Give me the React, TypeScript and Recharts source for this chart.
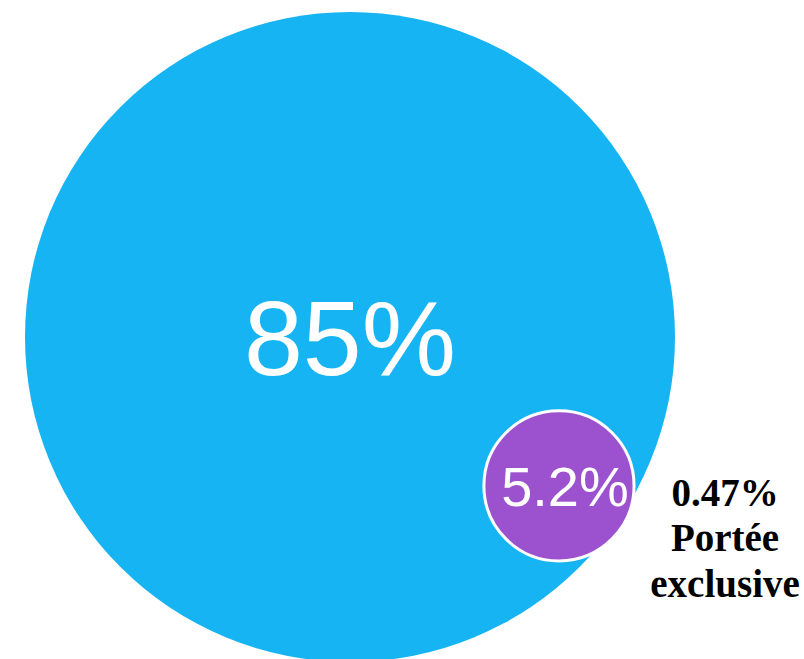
import { ScatterChart, Scatter, XAxis, YAxis } from "recharts";

// units: big circle radius = 100
const names = ["Portée totale", "Portée partagée"];
const labels = ["85%", "5.2%"];
const centerX = [0, 64.3];
const centerY = [0, -45.8];
const radius = [100, 23.1];
const colors = ["#17B4F3", "#9C52CF"];

const noteLines = ["0.47%", "Portée", "exclusive"];
const notePos = { x: 115.4, y: -52 };

const W = 804;
const H = 659;
const xDomain: [number, number] = [-107.69, 139.69];
const yDomain: [number, number] = [-99.08, 103.69];
const pxPerUnit = W / (xDomain[1] - xDomain[0]);

const circles = names.map((name, i) => ({
  name,
  x: centerX[i],
  y: centerY[i],
  r: radius[i],
  label: labels[i],
  color: colors[i],
}));

const CircleShape = (props: any) => {
  const { cx, cy, payload } = props;
  const r = payload.r * pxPerUnit;
  const big = payload.r > 50;
  const fontSize = big ? 106 : 56;
  return (
    <g>
      <circle
        cx={cx}
        cy={cy}
        r={r}
        fill={payload.color}
        stroke={big ? "none" : "#fff"}
        strokeWidth={3}
      />
      <text
        x={big ? cx : cx + 6}
        y={cy + fontSize * 0.36}
        textAnchor="middle"
        fill="#fff"
        fontFamily="'Liberation Sans', Arial, sans-serif"
        fontSize={fontSize}
      >
        {payload.label}
      </text>
    </g>
  );
};

const NoteShape = (props: any) => {
  const { cx, cy } = props;
  return (
    <text
      textAnchor="middle"
      fontFamily="'Liberation Serif', 'Times New Roman', serif"
      fontWeight="bold"
      fontSize={39}
      fill="#000"
    >
      {noteLines.map((t, i) => (
        <tspan key={t} x={cx} y={cy + i * 45.5}>
          {t}
        </tspan>
      ))}
    </text>
  );
};

export default function App() {
  return (
    <div style={{ position: "absolute", left: 0, top: 0, background: "#fff" }}>
      <ScatterChart width={W} height={H} margin={{ top: 0, right: 0, bottom: 0, left: 0 }}>
        <XAxis type="number" dataKey="x" domain={xDomain} hide allowDataOverflow />
        <YAxis type="number" dataKey="y" domain={yDomain} hide allowDataOverflow />
        <Scatter data={circles} shape={CircleShape} isAnimationActive={false} />
        <Scatter data={[notePos]} shape={NoteShape} isAnimationActive={false} />
      </ScatterChart>
    </div>
  );
}
